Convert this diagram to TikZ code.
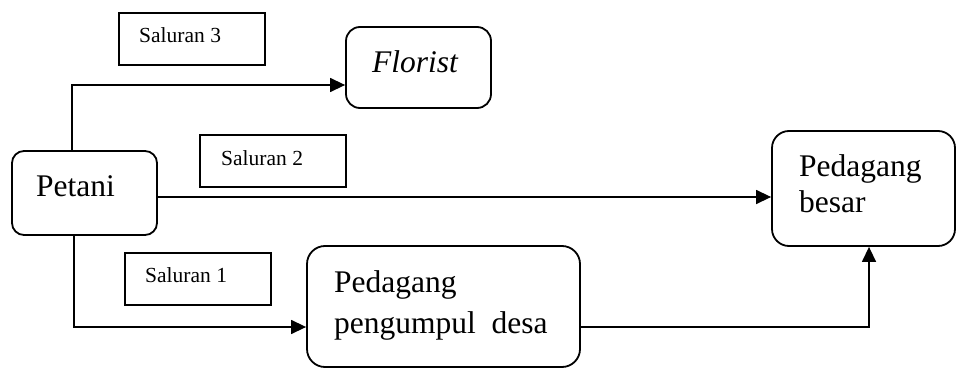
\documentclass[tikz,border=0pt]{standalone}
\usepackage{fontspec}
\setmainfont{Liberation Serif}
\usetikzlibrary{arrows.meta}
\begin{document}
\begin{tikzpicture}[x=1pt,y=-1pt,
  rbox/.style={draw,line width=1.8pt,rounded corners=14pt,inner sep=0pt},
  lbox/.style={draw,line width=1.8pt,inner sep=0pt},
  big/.style={anchor=base west,inner sep=0pt,font=\fontsize{31.5}{41}\selectfont},
  small/.style={anchor=base west,inner sep=0pt,font=\fontsize{21.5}{26}\selectfont},
  conn/.style={line width=1.4pt,-{Triangle[length=15pt,width=14pt]}}]
\useasboundingbox (0,0) rectangle (958,369);
% boxes
\node[lbox,minimum width=146pt,minimum height=52pt] (s3) at (192,39) {};
\node[lbox,minimum width=146pt,minimum height=52pt] (s2) at (273,161) {};
\node[lbox,minimum width=146pt,minimum height=52pt] (s1) at (198,279) {};
\node[rbox,minimum width=145pt,minimum height=81pt] (f) at (418.5,67.5) {};
\node[rbox,rounded corners=12pt,minimum width=145pt,minimum height=84pt] (p) at (84.5,193) {};
\node[rbox,rounded corners=18pt,minimum width=273pt,minimum height=121pt] (g) at (443.5,306.5) {};
\node[rbox,rounded corners=17pt,minimum width=183pt,minimum height=115pt] (b) at (863.5,188.5) {};
% texts
\node[small] (t3) at (139,43) {Saluran 3};
\node[small] (t2) at (221,165) {Saluran 2};
\node[small] (t1) at (145,282) {Saluran 1};
\node[big] (tf) at (372,72) {\itshape Florist};
\node[big] (tp) at (36,196) {Petani};
\node[big] (tg1) at (334,292) {Pedagang};
\node[big] (tg2) at (334,333) {pengumpul\ \ desa};
\node[big] (tb1) at (799,176) {Pedagang};
\node[big] (tb2) at (799,212) {besar};
% connectors
\coordinate (a3) at (72,85);
\coordinate (a2) at (0,197);
\coordinate (a1) at (74,327);
\coordinate (a4) at (869,327);
\draw[conn] (p.north -| a3) -- (a3) -- (a3 -| f.west);
\draw[conn] (p.east |- a2) -- (a2 -| b.west);
\draw[conn] (p.south -| a1) -- (a1) -- (a1 -| g.west);
\draw[conn] (a4 -| g.east) -- (a4) -- (a4 |- b.south);
\end{tikzpicture}
\end{document}
